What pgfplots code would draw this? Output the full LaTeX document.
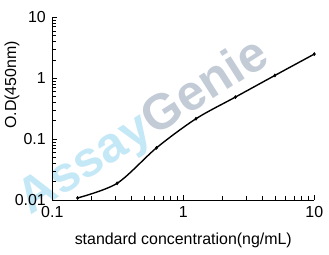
\documentclass[border=0pt]{standalone}
\usepackage{pgfplots}
\pgfplotsset{compat=1.18}
\usepackage{fontspec}
\setmainfont{Liberation Sans}
\definecolor{wmblue}{HTML}{C5E8F7}
\definecolor{wmgrey}{HTML}{C3CCD6}
\begin{document}
\begin{tikzpicture}
\path[use as bounding box] (-52.3bp,-55bp) rectangle (276.7bp,200bp);
\node[rotate=32.5, font=\fontsize{50}{52}\selectfont\bfseries, inner sep=0pt] at (92bp,72bp) {\textcolor{wmblue}{Assay}\textcolor{wmgrey}{Genie}};
\begin{axis}[
  scale only axis,
  width=262bp, height=182.7bp,
  xmode=log, ymode=log,
  xmin=0.1, xmax=10, ymin=0.01, ymax=10,
  axis x line*=bottom, axis y line*=left,
  axis line style={line width=0.9pt, -},
  tick style={black, line width=0.6pt},
  major tick length=5bp, minor tick length=4bp,
  tick align=inside,
  xtick={0.1,1,10}, xticklabels={0.1,1,10},
  ytick={0.01,0.1,1,10}, yticklabels={0.01,0.1,1,10},
  tick label style={font=\fontsize{16}{18}\selectfont},
  xticklabel style={yshift=-3bp},
  yticklabel style={xshift=-3bp},
  xlabel={standard concentration(ng/mL)},
  ylabel={O.D(450nm)},
  label style={font=\fontsize{16}{18}\selectfont},
  xlabel style={at={(axis description cs:0.5,0)}, anchor=center, yshift=-40bp},
  ylabel style={at={(axis description cs:-0.154,0.63)}, anchor=center, rotate=0},
  clip=false,
]
\addplot[black, line width=1.4pt, smooth, mark=diamond*, mark size=1.5pt, mark options={line width=0.6pt}] coordinates {
(0.156,0.0108) (0.3125,0.0188) (0.625,0.072) (1.25,0.216) (2.5,0.49) (5,1.11) (10,2.49)
};
\end{axis}
\end{tikzpicture}
\end{document}
